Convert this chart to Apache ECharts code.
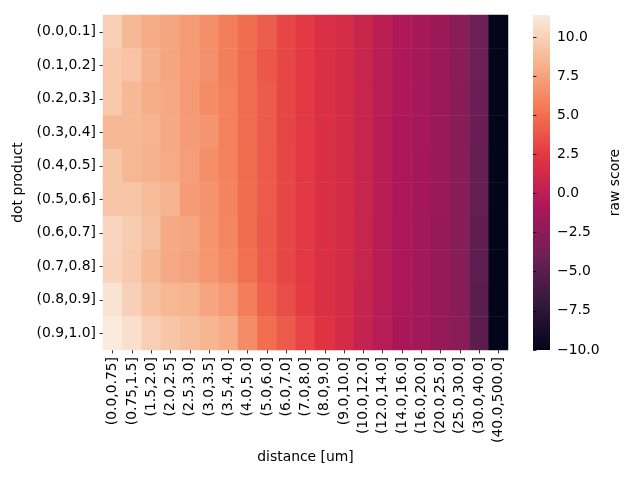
<!DOCTYPE html>
<html><head><meta charset="utf-8">
<script src="https://cdn.jsdelivr.net/npm/echarts@6/dist/echarts.min.js"></script>
<style>html,body{margin:0;padding:0;background:#fff}#c{width:640px;height:480px}</style>
</head><body><div id="c"></div>
<script>
const distanceBins = ["(0.0,0.75]","(0.75,1.5]","(1.5,2.0]","(2.0,2.5]","(2.5,3.0]","(3.0,3.5]","(3.5,4.0]","(4.0,5.0]","(5.0,6.0]","(6.0,7.0]","(7.0,8.0]","(8.0,9.0]","(9.0,10.0]","(10.0,12.0]","(12.0,14.0]","(14.0,16.0]","(16.0,20.0]","(20.0,25.0]","(25.0,30.0]","(30.0,40.0]","(40.0,500.0]"];
const dotBins = ["(0.0,0.1]","(0.1,0.2]","(0.2,0.3]","(0.3,0.4]","(0.4,0.5]","(0.5,0.6]","(0.6,0.7]","(0.7,0.8]","(0.8,0.9]","(0.9,1.0]"];
const row0 = [9.84, 8.62, 7.94, 7.6, 7.1, 6.46, 5.72, 4.87, 4.18, 3.09, 2.5, 1.83, 1.53, 0.83, -0.06, -0.64, -1.12, -1.67, -2.57, -4.09, -10.0];
const row1 = [9.5, 9.17, 8.14, 7.64, 7.05, 6.56, 5.72, 4.78, 3.91, 3.09, 2.45, 1.8, 1.45, 0.75, -0.1, -0.7, -1.15, -1.7, -2.6, -4.1, -10.0];
const row2 = [9.5, 8.56, 8.04, 7.74, 7.05, 6.36, 5.82, 4.78, 4.05, 3.09, 2.5, 1.8, 1.45, 0.75, -0.1, -0.72, -1.2, -1.75, -2.65, -4.15, -10.0];
const row3 = [8.56, 8.56, 8.29, 7.79, 7.1, 6.81, 5.82, 4.78, 4.0, 3.05, 2.45, 1.78, 1.42, 0.7, -0.15, -0.8, -1.25, -1.8, -2.7, -4.3, -10.0];
const row4 = [9.28, 8.5, 8.24, 7.84, 7.25, 6.46, 5.87, 4.82, 4.0, 3.09, 2.45, 1.78, 1.4, 0.68, -0.18, -0.85, -1.3, -1.85, -2.75, -4.45, -10.0];
const row5 = [9.28, 9.28, 8.78, 8.34, 7.1, 6.76, 5.97, 4.87, 4.0, 3.09, 2.45, 1.78, 1.4, 0.65, -0.2, -0.85, -1.3, -1.9, -2.8, -4.55, -10.0];
const row6 = [10.17, 9.67, 9.06, 7.79, 7.6, 6.81, 6.07, 4.87, 3.96, 3.09, 2.45, 1.78, 1.4, 0.65, -0.22, -0.88, -1.35, -1.95, -2.8, -4.7, -10.0];
const row7 = [10.1, 9.5, 8.56, 7.79, 7.5, 6.86, 6.27, 5.0, 4.0, 3.14, 2.45, 1.8, 1.42, 0.65, -0.22, -0.88, -1.35, -1.95, -2.8, -4.8, -10.0];
const row8 = [11.0, 9.9, 9.06, 8.5, 8.34, 7.6, 7.05, 5.67, 4.37, 3.41, 2.54, 1.9, 1.45, 0.6, -0.25, -0.9, -1.35, -2.0, -2.75, -4.95, -10.0];
const row9 = [11.4, 10.73, 9.84, 9.34, 8.9, 8.45, 7.94, 6.36, 4.96, 4.0, 3.0, 2.18, 1.47, 0.53, -0.29, -0.97, -1.37, -2.02, -2.57, -5.02, -10.0];
const scoreRows = [row0,row1,row2,row3,row4,row5,row6,row7,row8,row9];
const colorbarTicks = [-10, -7.5, -5, -2.5, 0, 2.5, 5, 7.5, 10];
const scoreMin = -10, scoreMax = 11.4;

const rocket = ['#03051A','#35193E','#701F57','#AD1759','#E13342','#F37651','#F6B48F','#FAEBDD'];
const data = [];
scoreRows.forEach((r, yi) => r.forEach((v, xi) => data.push([xi, yi, v])));
const FONT = 'DejaVu Sans';
const fmt = v => (v < 0 ? '\u2212' : '') + Math.abs(v).toFixed(1);
const CB = {left: 533, top: 15, width: 17, height: 335};
const chart = echarts.init(document.getElementById('c'), null, {renderer:'canvas'});
chart.setOption({
  animation: false,
  textStyle: {fontFamily: FONT},
  grid: [
    {left: 103, top: 15, width: 405, height: 335},
    {left: CB.left, top: CB.top, width: CB.width, height: CB.height}
  ],
  graphic: [{
    type:'rect', left: CB.left, top: CB.top, z: 0, silent: true,
    shape:{width: CB.width, height: CB.height},
    style:{fill: new echarts.graphic.LinearGradient(0, 1, 0, 0,
      rocket.map((c, i) => ({offset: i / (rocket.length - 1), color: c})))}
  }],
  xAxis: [
    {type:'category', data: distanceBins, gridIndex:0,
     axisLine:{show:false}, splitLine:{show:false},
     axisTick:{show:true, alignWithLabel:true, length:3.5, lineStyle:{color:'#000', width:0.8}},
     axisLabel:{rotate:90, fontSize:13.9, color:'#000', margin:7, fontFamily:FONT, interval:0},
     name:'distance [um]', nameLocation:'middle', nameGap:99,
     nameTextStyle:{fontSize:13.9, color:'#000', fontFamily:FONT}},
    {type:'value', gridIndex:1, show:false, min:0, max:1}
  ],
  yAxis: [
    {type:'category', data: dotBins, inverse:true, gridIndex:0,
     axisLine:{show:false}, splitLine:{show:false},
     axisTick:{show:true, alignWithLabel:true, length:3.5, lineStyle:{color:'#000', width:0.8}},
     axisLabel:{fontSize:13.9, color:'#000', margin:7, fontFamily:FONT, interval:0},
     name:'dot product', nameLocation:'middle', nameGap:70, nameRotate:90,
     nameTextStyle:{fontSize:13.9, color:'#000', fontFamily:FONT}},
    {type:'value', gridIndex:1, position:'right', min:scoreMin, max:scoreMax, interval:2.5,
     axisLine:{show:false}, splitLine:{show:false},
     axisTick:{show:true, length:3.5, lineStyle:{color:'#000', width:0.8}},
     axisLabel:{fontSize:13.9, color:'#000', margin:7, fontFamily:FONT, showMaxLabel:false,
       formatter: v => colorbarTicks.indexOf(v) >= 0 ? fmt(v) : ''},
     name:'raw score', nameLocation:'middle', nameGap:58, nameRotate:90,
     nameTextStyle:{fontSize:13.9, color:'#000', fontFamily:FONT}}
  ],
  visualMap: {
    type:'continuous', min:scoreMin, max:scoreMax, seriesIndex:0, show:false,
    inRange:{color: rocket}
  },
  series: [
    {type:'heatmap', xAxisIndex:0, yAxisIndex:0, data: data,
     itemStyle:{borderWidth:0}, progressive:0}
  ]
});
</script></body></html>
